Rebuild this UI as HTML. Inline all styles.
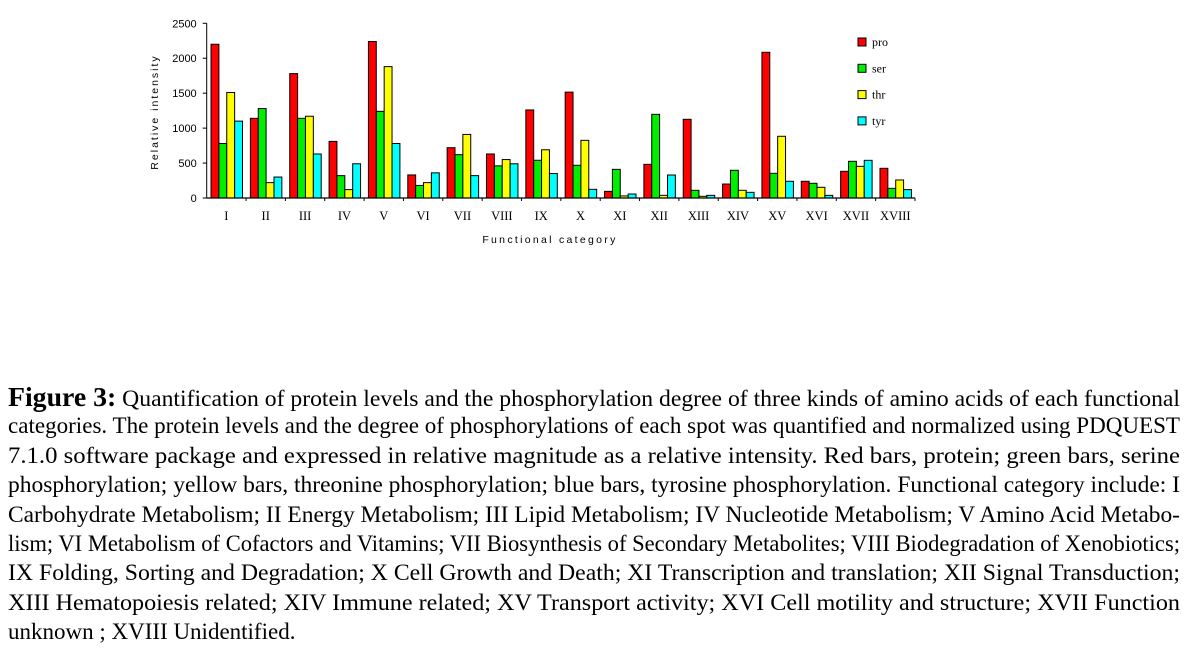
<!DOCTYPE html>
<html><head><meta charset="utf-8">
<style>
body{margin:0;background:#fff;width:1188px;height:649px;overflow:hidden;position:relative;font-family:"Liberation Serif",serif;}
.ln{position:absolute;left:8px;white-space:nowrap;font-size:23px;color:#000;transform-origin:0 0;line-height:26px;}
.fig{font-weight:bold;font-size:27px;}
</style></head><body>
<svg width="1188" height="260" style="position:absolute;left:0;top:0" id="chart"></svg>
<div id="caption">
<div class="ln"><span class="fig">Figure 3:</span> Quantification of protein levels and the phosphorylation degree of three kinds of amino acids of each functional</div>
<div class="ln">categories. The protein levels and the degree of phosphorylations of each spot was quantified and normalized using PDQUEST</div>
<div class="ln">7.1.0 software package and expressed in relative magnitude as a relative intensity. Red bars, protein; green bars, serine</div>
<div class="ln">phosphorylation; yellow bars, threonine phosphorylation; blue bars, tyrosine phosphorylation. Functional category include: I</div>
<div class="ln">Carbohydrate Metabolism; II Energy Metabolism; III Lipid Metabolism; IV Nucleotide Metabolism; V Amino Acid Metabo-</div>
<div class="ln">lism; VI Metabolism of Cofactors and Vitamins; VII Biosynthesis of Secondary Metabolites; VIII Biodegradation of Xenobiotics;</div>
<div class="ln">IX Folding, Sorting and Degradation; X Cell Growth and Death; XI Transcription and translation; XII Signal Transduction;</div>
<div class="ln">XIII Hematopoiesis related; XIV Immune related; XV Transport activity; XVI Cell motility and structure; XVII Function</div>
<div class="ln">unknown ; XVIII Unidentified.</div>
</div>
<script>
const categories=["I","II","III","IV","V","VI","VII","VIII","IX","X","XI","XII","XIII","XIV","XV","XVI","XVII","XVIII"];
const pro=[2200,1140,1780,810,2240,330,720,630,1260,1515,95,482,1126,200,2085,239,382,425];
const ser=[780,1280,1140,320,1240,180,620,460,540,468,410,1197,110,396,353,210,525,138];
const thr=[1510,220,1170,120,1880,220,910,550,690,825,30,38,24,110,883,153,453,258];
const tyr=[1100,300,630,490,780,360,320,490,350,124,57,329,38,81,239,38,539,120];
const yTicks=[0,500,1000,1500,2000,2500];
const seriesNames=["pro","ser","thr","tyr"];
const colors=["#ff0000","#00ee00","#ffff00","#00ffff"];
const series=[pro,ser,thr,tyr];
const NS="http://www.w3.org/2000/svg";
const svg=document.getElementById('chart');
const X0=206.7,X1=915,Y0=198,Y1=23.3,YMAX=2500;
const gw=(X1-X0)/categories.length;
function y(v){return Y0-(v/YMAX)*(Y0-Y1);}
function gx(i){return X0+i*gw;}
function mk(t,a,txt){const e=document.createElementNS(NS,t);for(const k in a)e.setAttribute(k,a[k]);if(txt!==undefined)e.textContent=txt;svg.appendChild(e);return e;}
const bw=gw*0.2, off=gw*0.11;
series.forEach((s,si)=>{s.forEach((v,i)=>{
 const r=mk('rect',{x:gx(i)+off+si*bw,y:y(v),width:bw,height:Y0-y(v),fill:colors[si],stroke:'#000','stroke-width':1});
 
 
});});
let a=mk('line',{x1:X0,y1:Y1,x2:X0,y2:Y0,stroke:'#000','stroke-width':1});

a=mk('line',{x1:X0,y1:Y0,x2:X1,y2:Y0,stroke:'#000','stroke-width':1.2});

yTicks.forEach(t=>{
 mk('line',{x1:X0-4,y1:y(t),x2:X0,y2:y(t),stroke:'#000'});
 const l=mk('text',{x:X0-10,y:y(t)+4,'text-anchor':'end','font-family':'Liberation Sans, sans-serif','font-size':11},t);
 
});
categories.forEach((c,i)=>{
 mk('line',{x1:gx(i+1),y1:Y0,x2:gx(i+1),y2:Y0+3,stroke:'#000'});
 const l=mk('text',{x:gx(i)+gw/2,y:220,'text-anchor':'middle','font-family':'Liberation Serif, serif','font-size':12.5},c);
 
});
let t=mk('text',{x:0,y:0,transform:'translate(158,112) rotate(-90)','text-anchor':'middle','font-family':'Liberation Sans, sans-serif','font-size':10.5,'letter-spacing':2},'Relative intensity');

t=mk('text',{x:550,y:243,'text-anchor':'middle','font-family':'Liberation Sans, sans-serif','font-size':10.5,'letter-spacing':2.3},'Functional category');

seriesNames.forEach((n,i)=>{
 const ly=38+i*26.3;
 const r=mk('rect',{x:858,y:ly,width:8,height:8,fill:colors[i],stroke:'#000'});
 
 const l=mk('text',{x:872,y:ly+8,'font-family':'Liberation Serif, serif','font-size':12},n);
 
});
const lines=document.querySelectorAll('.ln');
const W=1172;
lines.forEach((el,i)=>{
 el.style.top=(384+i*29.4)+'px';
 const w=el.getBoundingClientRect().width;
 if(i===lines.length-1){ return; }
 el.style.transform='scaleX('+(W/w)+')';
});
</script>
</body></html>
